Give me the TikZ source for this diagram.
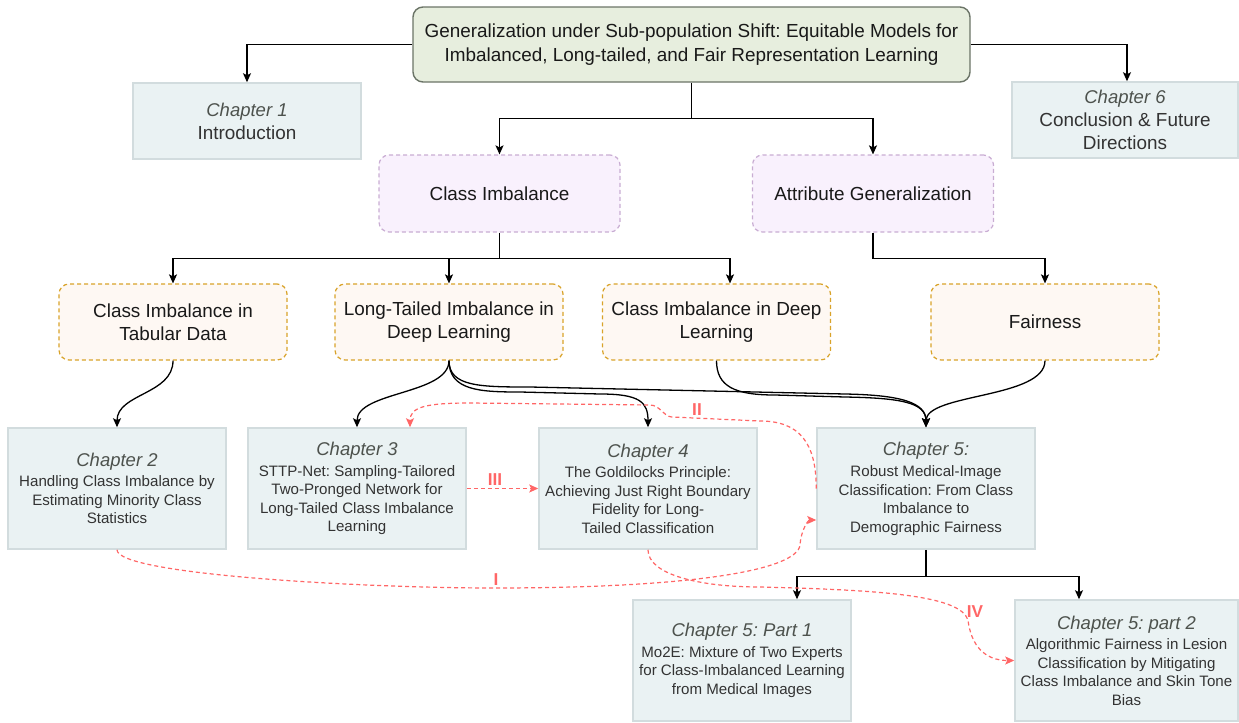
\documentclass[tikz,border=0pt]{standalone}
\usepackage{fontspec}
\setmainfont{Liberation Sans}
\usepackage{xcolor}
\usetikzlibrary{arrows.meta,calc}
\frenchspacing
\definecolor{chfill}{HTML}{EAF2F3}
\definecolor{chdraw}{HTML}{D2DCDE}
\definecolor{chtext}{HTML}{333333}
\definecolor{chhead}{HTML}{4D524D}
\definecolor{topfill}{HTML}{E7EEDE}
\definecolor{topdraw}{HTML}{6B7467}
\definecolor{purfill}{HTML}{F9F1FD}
\definecolor{purdraw}{HTML}{C9ADD3}
\definecolor{orfill}{HTML}{FEF8F3}
\definecolor{ordraw}{HTML}{D9A32A}
\definecolor{linkred}{HTML}{FF6666}
\newcommand{\chhead}[1]{{\fontsize{9.25}{11}\selectfont\itshape\color{chhead}#1}}

\begin{document}
\begin{tikzpicture}[x=0.5pt,y=-0.5pt,>={Stealth[length=4.5pt,width=4pt,inset=1pt]},
  conn/.style={->,line width=0.65pt,black},
  link/.style={->,line width=0.6pt,linkred,dash pattern=on 2pt off 1.5pt},
  linklabel/.style={text=linkred,font=\fontsize{8.6}{8.6}\selectfont\bfseries,inner sep=0pt},
  topbox/.style={draw=topdraw,fill=topfill,line width=0.7pt,rounded corners=5pt,minimum width=278.5pt,minimum height=37.5pt,align=center,text=black!90,font=\fontsize{9.45}{12}\selectfont},
  chbox/.style={draw=chdraw,fill=chfill,line width=0.75pt,minimum width=109pt,minimum height=60.5pt,align=center,text=chtext,inner sep=2pt,font=\fontsize{7.55}{9.25}\selectfont},
  introbox/.style={chbox,minimum width=114pt,minimum height=38pt,font=\fontsize{9.45}{11.5}\selectfont},
  catbox/.style={draw=purdraw,fill=purfill,line width=0.6pt,dash pattern=on 2pt off 1.5pt,rounded corners=5pt,minimum width=120.5pt,minimum height=38.5pt,align=center,text=black!90,font=\fontsize{9.45}{11.75}\selectfont},
  subbox/.style={catbox,draw=ordraw,fill=orfill,minimum width=114pt,minimum height=38pt}]
\useasboundingbox (0,0) rectangle (1239,723);
% ---- thesis and outer chapters ----
\node[topbox] (thesis) at (691.5,44.5) {Generalization under Sub-population Shift: Equitable Models for\\Imbalanced, Long-tailed, and Fair Representation Learning};
\node[introbox] (ch1) at (247,121) {\chhead{Chapter 1}\\Introduction};
\node[introbox,minimum width=113pt] (ch6) at (1125,120) {\chhead{Chapter 6}\\Conclusion \& Future\\Directions};
% ---- themes ----
\node[catbox] (imb) at (499.5,193.5) {Class Imbalance};
\node[catbox] (attr) at (873,193.5) {Attribute Generalization};
\node[subbox] (tab) at (173,322) {Class Imbalance in\\Tabular Data};
\node[subbox] (ltail) at (449,322) {Long-Tailed Imbalance in\\Deep Learning};
\node[subbox] (deep) at (716.5,322) {Class Imbalance in Deep\\Learning};
\node[subbox] (fair) at (1045,322) {Fairness};
% ---- core chapters ----
\node[chbox] (ch2) at (117,488.5) {\chhead{Chapter 2}\\[1pt]Handling Class Imbalance by\\Estimating Minority Class\\Statistics};
\node[chbox] (ch3) at (357,488.5) {\chhead{Chapter 3}\\[1pt]STTP-Net: Sampling-Tailored\\Two-Pronged Network for\\Long-Tailed Class Imbalance\\Learning};
\node[chbox] (ch4) at (648,488.5) {\chhead{Chapter 4}\\[1pt]The Goldilocks Principle:\\Achieving Just Right Boundary\\Fidelity for Long-\\Tailed Classification};
\node[chbox] (ch5) at (926,488.5) {\chhead{Chapter 5:}\\[1.5pt]Robust Medical-Image\\Classification: From Class\\Imbalance to\\Demographic Fairness};
\node[chbox] (ch5a) at (742,660.5) {\chhead{Chapter 5: Part 1}\\[1pt]Mo2E: Mixture of Two Experts\\for Class-Imbalanced Learning\\from Medical Images};
\node[chbox,minimum width=111.5pt] (ch5b) at (1126.5,660.5) {\chhead{Chapter 5: part 2}\\[1pt]Algorithmic Fairness in Lesion\\Classification by Mitigating\\Class Imbalance and Skin Tone\\Bias};
% ---- tree connectors ----
\draw[conn] (thesis.west) -| (ch1.north);
\draw[conn] (thesis.east) -| ([xshift=1pt]ch6.north);
\coordinate (split1) at ($(thesis.south)+(0,36)$);
\draw[conn] (thesis.south) -- (split1) -| (imb.north);
\draw[conn] (split1) -| (attr.north);
\coordinate (split2) at ($(imb.south)+(0,26)$);
\draw[conn] (imb.south) -- (split2) -| (tab.north);
\draw[conn] (split2) -| (ltail.north);
\draw[conn] (split2) -| ([xshift=6.75pt]deep.north);
\draw[conn] (attr.south) -- ++(0,26) -| (fair.north);
\coordinate (split3) at ($(ch5.south)+(0,27)$);
\draw[conn] (ch5.south) -- (split3) -| ([xshift=27.5pt]ch5a.north);
\draw[conn] (split3) -| ([xshift=-23.75pt]ch5b.north);
% ---- curved feeds into the chapters ----
\draw[conn] (tab.south) .. controls +(0,34) and +(0,-34) .. (ch2.north);
\draw[conn] (ltail.south) .. controls +(0,34) and +(0,-36) .. (ch3.north);
\draw[conn] (ltail.south) .. controls +(0,30) and +(-40,0) .. (520,392) -- (600,394) .. controls +(40,0) and +(0,-25) .. (ch4.north);
\draw[conn] (ltail.south) .. controls +(0,26) and +(-50,0) .. (530,387) -- (845,394) .. controls +(55,1) and +(0,-25) .. (ch5.north);
\draw[conn] (deep.south) .. controls +(0,26) and +(-40,0) .. (775,395) -- (845,397) .. controls +(55,1) and +(0,-25) .. (ch5.north);
\draw[conn] (fair.south) .. controls +(0,38) and +(0,-34) .. (ch5.north);
% ---- red cross links ----
\draw[link] (ch3.east) -- (ch4.west);
\node[linklabel] (labIII) at (495,480) {III};
\draw[link] (ch5.west) .. controls +(0,-45) and +(40,0) .. (760,421) -- (672,417) .. controls +(-8,0) and +(10,0) .. (650,405) -- (470,403) .. controls +(-45,0) and +(0,-20) .. ([xshift=26.5pt]ch3.north);
\node[linklabel] (labII) at (697,410) {II};
\draw[link] (ch2.south) .. controls +(0,25) and +(-130,0) .. (494,588) .. controls +(200,0) and +(-3,25) .. (800,545) .. controls +(1,-15) and +(-8,0) .. ([yshift=-15.75pt]ch5.west);
\node[linklabel] (labI) at (496,580) {I};
\draw[link] (ch4.south) .. controls +(0,25) and +(-60,0) .. (760,587) .. controls +(120,3) and +(-8,-25) .. (968,620) .. controls +(3,25) and +(-30,0) .. (ch5b.west);
\node[linklabel] (labIV) at (975,612) {IV};
\end{tikzpicture}
\end{document}
